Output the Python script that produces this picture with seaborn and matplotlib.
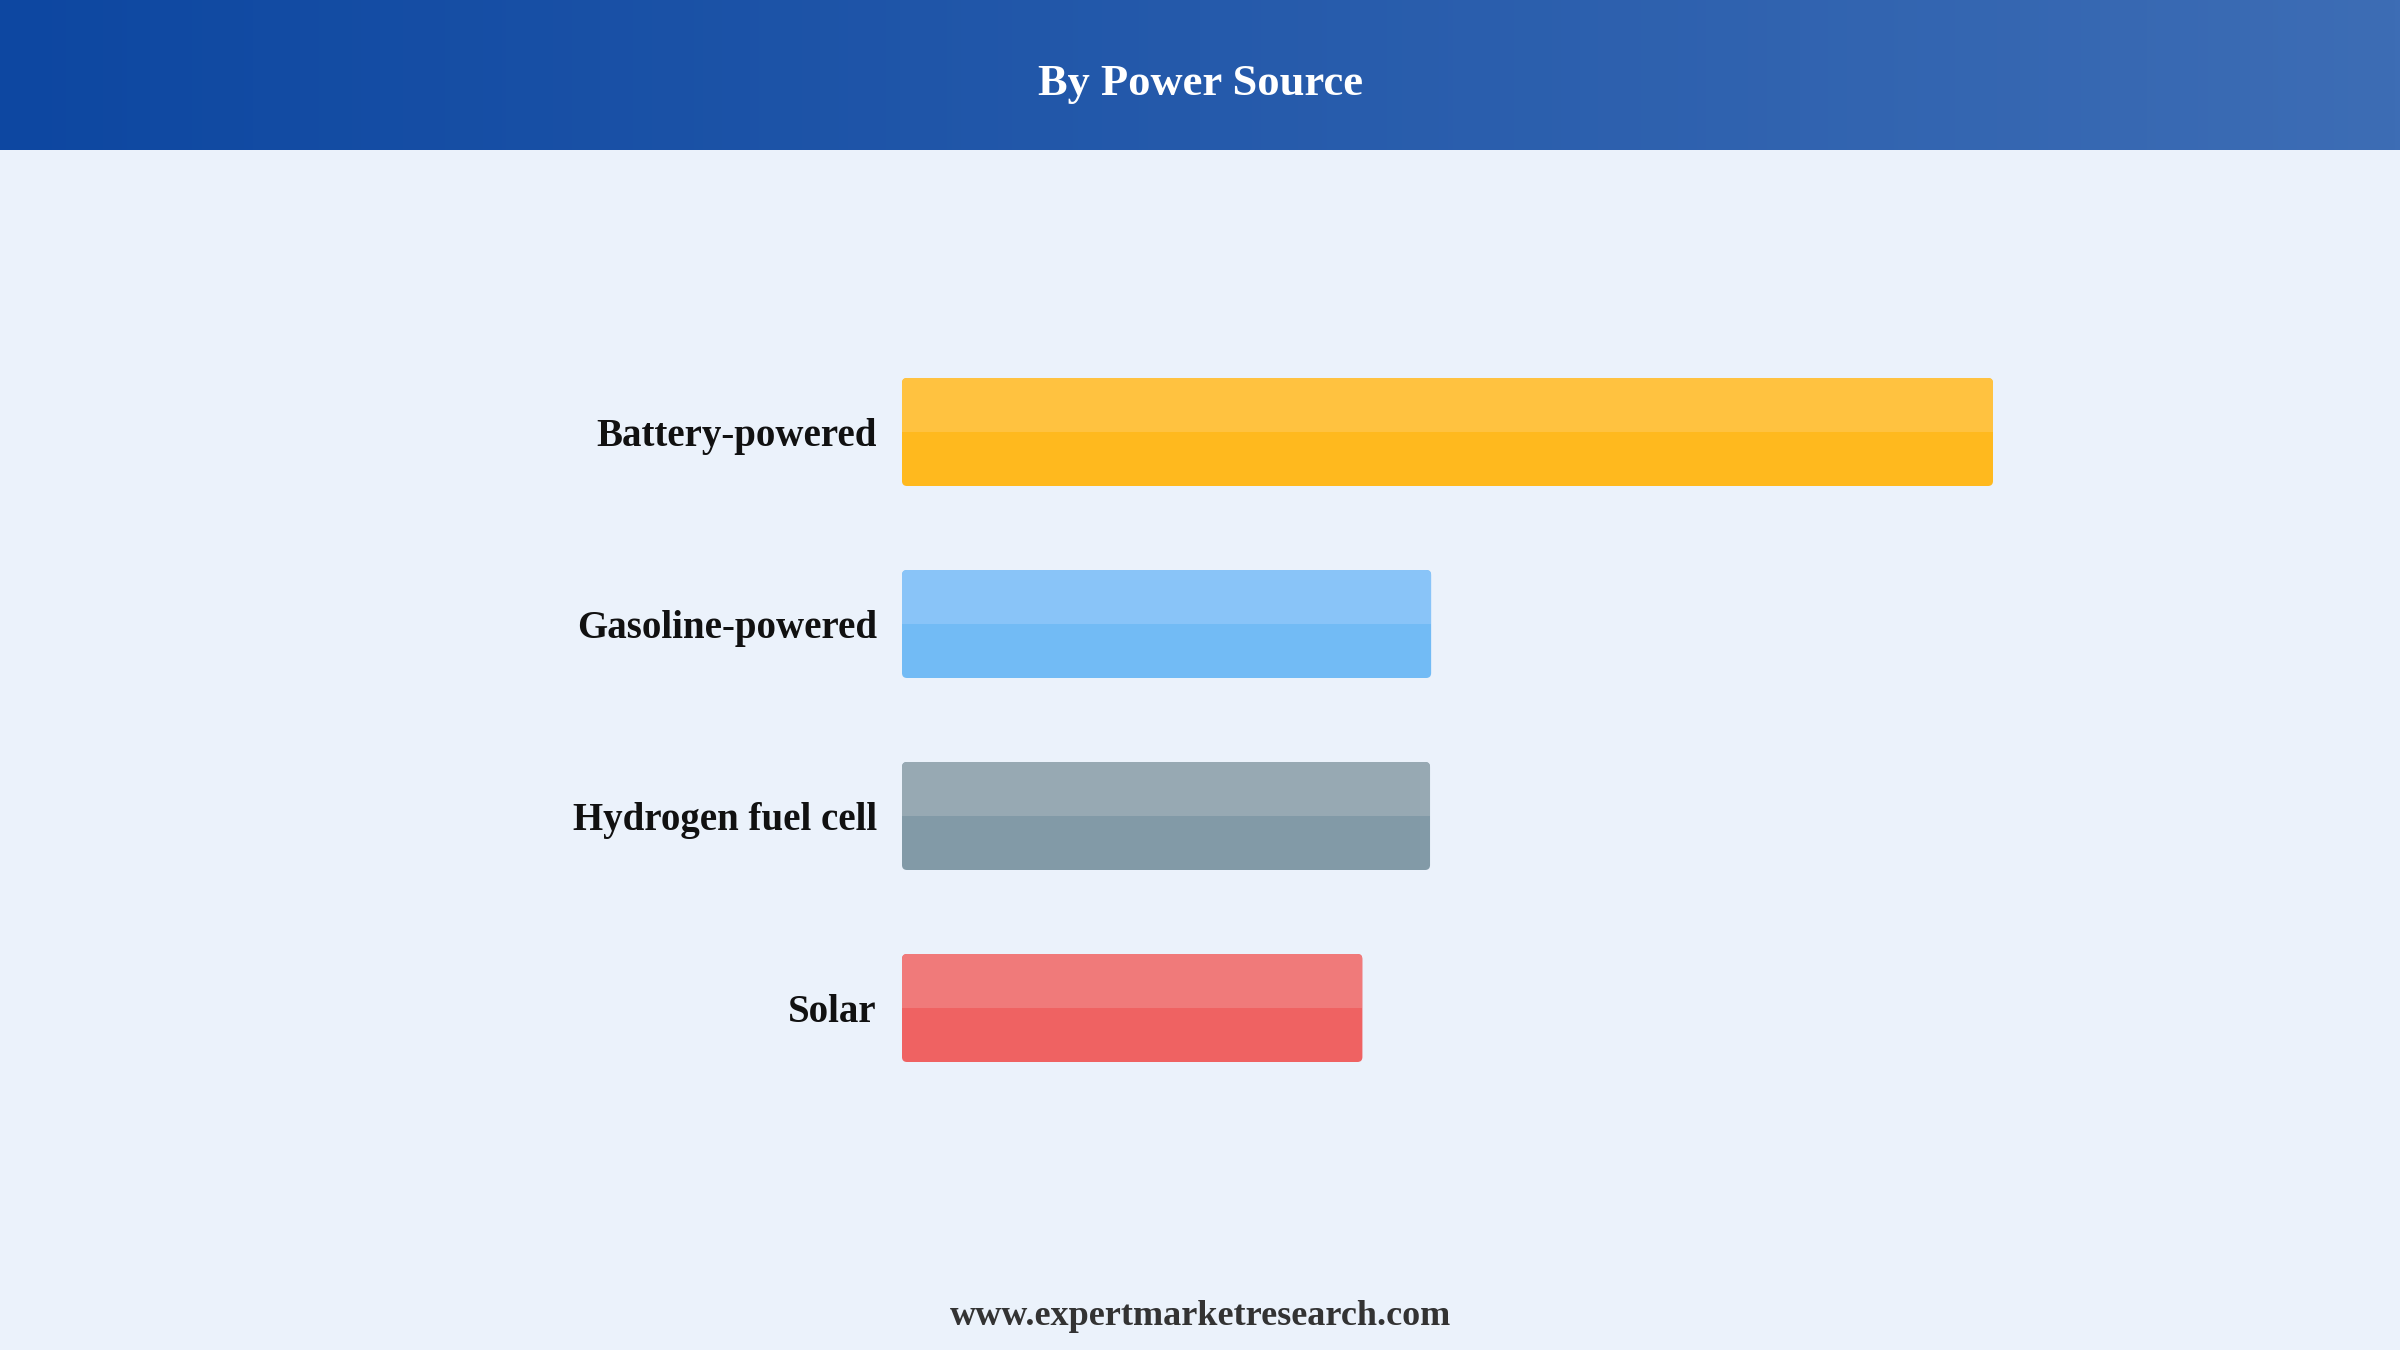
import numpy as np
import pandas as pd
import matplotlib.pyplot as plt
import seaborn as sns
from matplotlib.patches import FancyBboxPatch, Rectangle

# Data (relative bar lengths, battery = 100)
sources = ['Battery-powered', 'Gasoline-powered', 'Hydrogen fuel cell', 'Solar']
shares = [100, 48.5, 48.4, 42.2]
light_colors = ['#FFC240', '#89C4F8', '#97A9B3', '#F07A7A']
dark_colors = ['#FFB91E', '#72BBF5', '#829AA7', '#EF6262']

df = pd.DataFrame({'Source': sources, 'Share': shares})

sns.set_theme(style='white')
plt.rcParams['font.family'] = ['Liberation Serif', 'DejaVu Serif']
plt.rcParams['font.weight'] = 'bold'

bg = '#EBF2FB'
fig = plt.figure(figsize=(24, 13.5), dpi=100, facecolor=bg)

# Header band with a horizontal gradient
hax = fig.add_axes([0, 1 - 150 / 1350, 1, 150 / 1350])
grad = np.linspace(0, 1, 512).reshape(1, -1)
left_c = np.array([13, 71, 161]) / 255
right_c = np.array([61, 109, 181]) / 255
img = left_c[None, None, :] * (1 - grad[..., None]) + right_c[None, None, :] * grad[..., None]
hax.imshow(img, aspect='auto', extent=[0, 1, 0, 1])
hax.set_axis_off()
hax.text(0.5, (150 - 95) / 150, 'By Power Source', color='white', fontsize=32, fontweight='bold',
         ha='center', va='baseline', transform=hax.transAxes)

# Bar chart
ax = fig.add_axes([902 / 2400, 1 - 1104 / 1350, 1091 / 2400, 768 / 1350])
ax.set_facecolor(bg)
sns.barplot(data=df, x='Share', y='Source', hue='Source', palette=dark_colors,
            orient='h', width=0.5625, legend=False, ax=ax, saturation=1)
ax.set_xlim(0, 100)
ax.set_ylim(3.5, -0.5)

# rounding: x data units per px vs y data units per px
px_x = 100 / 1091
px_y = 4 / 768
r = 5 * px_x
aspect = px_y / px_x

bars = list(ax.patches)
for bar, lc, dc in zip(bars, light_colors, dark_colors):
    x0, y0 = bar.get_x(), bar.get_y()
    w, h = bar.get_width(), bar.get_height()
    bar.set_visible(False)
    rounded = FancyBboxPatch((x0, y0), w, h,
                             boxstyle=f'round,pad=0,rounding_size={r}',
                             mutation_aspect=aspect, facecolor=dc,
                             edgecolor='none', zorder=3)
    ax.add_patch(rounded)
    top = Rectangle((x0, y0), w, h / 2, facecolor=lc, edgecolor='none', zorder=4)
    ax.add_patch(top)
    top.set_clip_path(rounded)

for s in ax.spines.values():
    s.set_visible(False)
ax.set_xticks([])
ax.set_xlabel('')
ax.set_ylabel('')
ax.tick_params(axis='y', length=0, pad=18)
for lab in ax.get_yticklabels():
    lab.set_fontsize(28)
    lab.set_fontweight('bold')
    lab.set_color('#111111')

fig.text(0.5, 1 - 1325 / 1350, 'www.expertmarketresearch.com', ha='center', va='baseline',
         fontsize=26, fontweight='bold', color='#333333')

fig.savefig('out.png', dpi=100, facecolor=bg)
